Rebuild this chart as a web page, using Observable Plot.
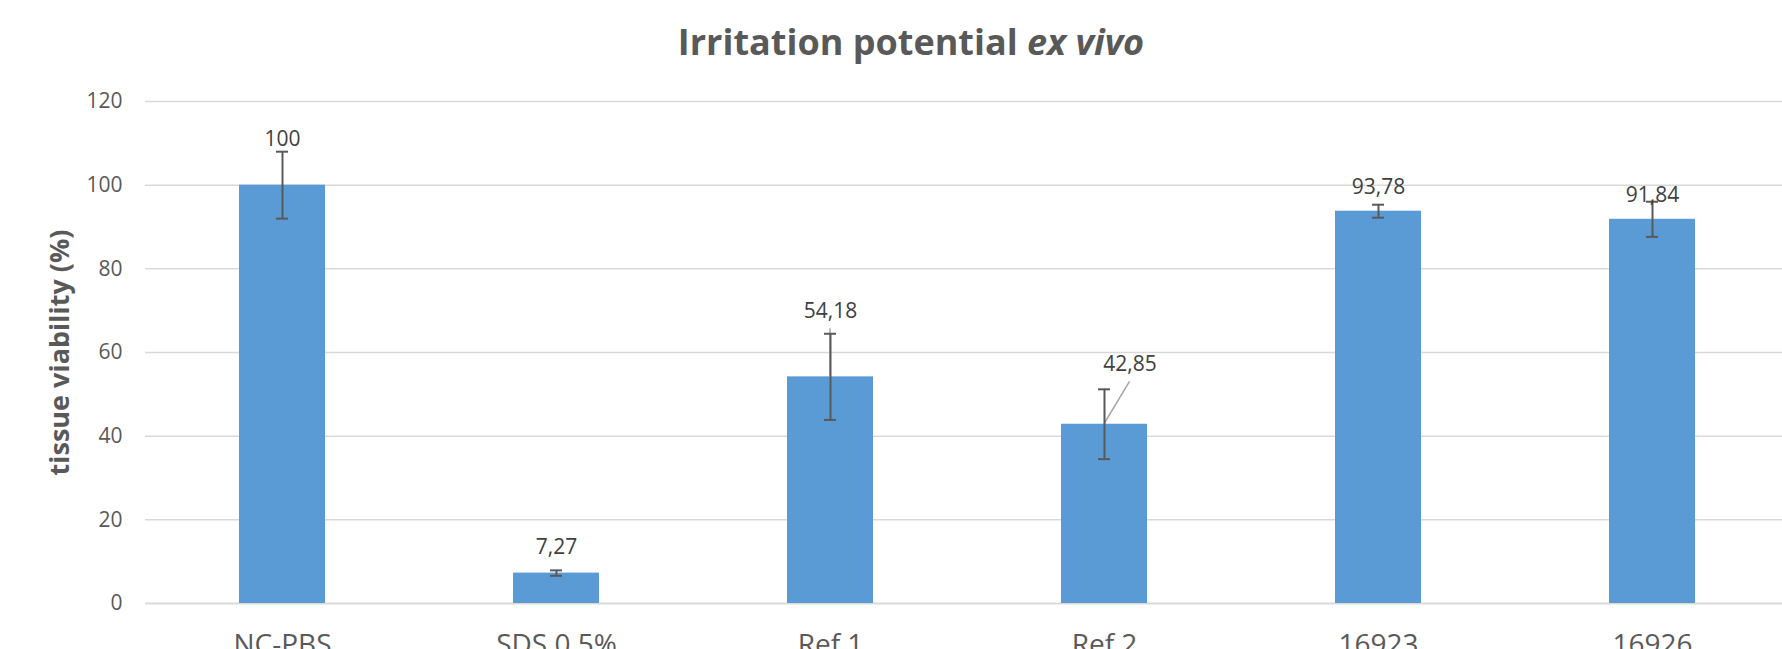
<!DOCTYPE html>
<html>
<head>
<meta charset="utf-8">
<script src="https://cdn.jsdelivr.net/npm/d3@7"></script>
<script src="https://cdn.jsdelivr.net/npm/@observablehq/plot@0.6"></script>
<style>
  html, body { margin: 0; padding: 0; background: #ffffff; }
  body { width: 1782px; height: 649px; overflow: hidden; position: relative; font-family: "Open Sans", sans-serif; }
  #chart { position: absolute; left: 0; top: 0; }
  #title { position: absolute; top: 24px; left: 911px; transform: translateX(-50%); white-space: nowrap;
           font-size: 36px; font-weight: 700; line-height: 1; color: #595959; }
</style>
</head>
<body>
<div id="chart"></div>
<div id="title">Irritation potential <i>ex vivo</i></div>
<script>
// ---- data ----
const categories  = ["NC-PBS", "SDS 0,5%", "Ref 1", "Ref 2", "16923", "16926"];
const viability   = [100, 7.27, 54.18, 42.85, 93.78, 91.84];
const errors      = [8.0, 0.65, 10.3, 8.35, 1.55, 4.2];
const valueLabels = ["100", "7,27", "54,18", "42,85", "93,78", "91,84"];
const labelAt     = [109.3, 11.8, 68.3, 55.6, 97.9, 96.0];   // label baseline, in % units
const leaderCats  = ["Ref 1", "Ref 2"];
const yTicks      = [0, 20, 40, 60, 80, 100, 120];
const yLabel      = "tissue viability (%)";

const table = categories.map((cat, i) => ({
  cat, v: viability[i], e: errors[i], label: valueLabels[i], labelAt: labelAt[i]
}));

function leaderLines(...args) {
  const scales = args.find(a => a && typeof a.x === "function" && typeof a.y === "function");
  if (!scales) return null;
  const {x, y} = scales;
  const bw = typeof x.bandwidth === "function" ? x.bandwidth() : (x.bandwidth || 0);
  const g = d3.create("svg:g").attr("stroke", "#a6a6a6").attr("stroke-width", 1.5);
  for (const d of table.filter(d => leaderCats.includes(d.cat))) {
    const cx = x(d.cat) + bw / 2;
    g.append("line")
      .attr("x1", cx + (d.cat === "Ref 2" ? 25.5 : 0))
      .attr("y1", y(d.labelAt) + 11)
      .attr("x2", cx)
      .attr("y2", y(d.v));
  }
  return g.node();
}

const chart = Plot.plot({
  width: 1782,
  height: 649,
  marginLeft: 145,
  marginRight: 0,
  marginTop: 101,
  marginBottom: 46,
  style: {fontFamily: '"Open Sans", sans-serif', background: "transparent", overflow: "visible"},
  x: {domain: categories, range: [145, 1790], paddingInner: 0.686, paddingOuter: 0.343, align: 0.5},
  y: {domain: [0, 120]},
  marks: [
    Plot.ruleY(yTicks.filter(t => t > 0), {stroke: "#d9d9d9", strokeWidth: 1.5}),
    Plot.ruleY([0], {stroke: "#d9d9d9", strokeWidth: 2}),
    Plot.barY(table, {x: "cat", y: "v", fill: "#5b9bd5"}),
    leaderLines,
    Plot.ruleX(table, {x: "cat", y1: d => d.v - d.e, y2: d => d.v + d.e, stroke: "#595959", strokeWidth: 2}),
    Plot.tickY(table, {x: "cat", y: d => d.v - d.e, stroke: "#595959", strokeWidth: 2, insetLeft: 37, insetRight: 37}),
    Plot.tickY(table, {x: "cat", y: d => d.v + d.e, stroke: "#595959", strokeWidth: 2, insetLeft: 37, insetRight: 37}),
    Plot.text(table.filter(d => d.cat !== "Ref 2"), {x: "cat", y: "labelAt", text: "label", lineAnchor: "bottom", fontSize: 21, fill: "#404040"}),
    Plot.text(table.filter(d => d.cat === "Ref 2"), {x: "cat", y: "labelAt", text: "label", lineAnchor: "bottom", fontSize: 21, fill: "#404040", dx: 25.5}),
    Plot.axisY(yTicks, {tickSize: 0, tickPadding: 23, fontSize: 21, fill: "#595959", label: null}),
    Plot.axisX({tickSize: 0, tickPadding: 31, fontSize: 28, fill: "#595959", label: null}),
    Plot.text([yLabel], {frameAnchor: "left", textAnchor: "middle", rotate: -90, dx: -85, fontSize: 27, fontWeight: "bold", fill: "#595959"})
  ]
});
document.getElementById("chart").appendChild(chart);
</script>
</body>
</html>
